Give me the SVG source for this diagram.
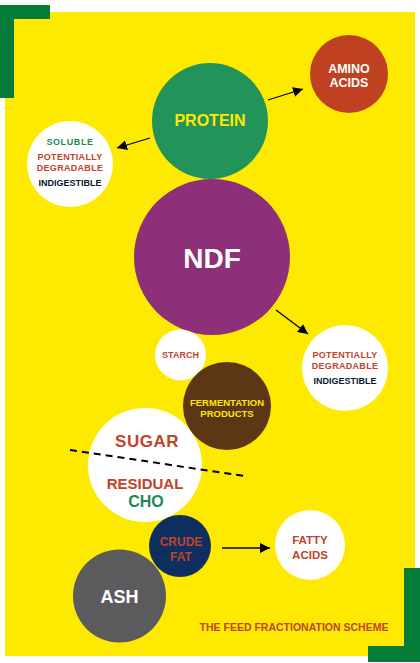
<svg xmlns="http://www.w3.org/2000/svg" width="420" height="663" viewBox="0 0 420 663">
<defs>
<marker id="ah" viewBox="0 0 10 10" refX="10" refY="5" markerWidth="10" markerHeight="10" markerUnits="userSpaceOnUse" orient="auto"><path d="M0,0 L10,5 L0,10 z" fill="#000"/></marker>
<style>
text{font-family:"Liberation Sans",Arial,sans-serif;font-weight:bold;text-anchor:middle;dominant-baseline:central}
.w{fill:#fff}.y{fill:#FFE800}.r{fill:#C0432A}.g{fill:#1E8A52}.k{fill:#0B1530}
.ln{stroke:#000;stroke-width:1.3;fill:none}
</style>
</defs>
<rect width="420" height="663" fill="#fff"/>
<rect x="5" y="12" width="410" height="644" fill="#FDEA00"/>
<path d="M0,5 H50 V19 H14 V98 H0 Z" fill="#047B36"/>
<path d="M404,568 H420 V662 H368 V646 H404 Z" fill="#047B36"/>
<g id="amino"><circle cx="349" cy="74" r="39" fill="#BF4121"/><text class="w" x="349" y="69" font-size="12.5">AMINO</text><text class="w" x="349" y="83" font-size="12.5">ACIDS</text></g>
<g id="protein"><circle cx="210" cy="121" r="58" fill="#22945A"/><text class="y" x="210" y="120" font-size="16">PROTEIN</text></g>
<g id="soluble"><circle cx="70" cy="164" r="43" fill="#fff"/><text class="g" x="70" y="142" font-size="9" letter-spacing="0.6">SOLUBLE</text><text class="r" x="70" y="157" font-size="9" letter-spacing="0.3">POTENTIALLY</text><text class="r" x="70" y="168" font-size="9" letter-spacing="0.3">DEGRADABLE</text><text class="k" x="70" y="183" font-size="9">INDIGESTIBLE</text></g>
<g id="ndf"><circle cx="212" cy="257" r="78" fill="#8E3079"/><text class="w" x="212" y="258" font-size="28">NDF</text></g>
<g id="potdeg"><circle cx="345" cy="368" r="43" fill="#fff"/><text class="r" x="345" y="355" font-size="9" letter-spacing="0.3">POTENTIALLY</text><text class="r" x="345" y="366" font-size="9" letter-spacing="0.3">DEGRADABLE</text><text class="k" x="345" y="381" font-size="9">INDIGESTIBLE</text></g>
<g id="starch"><circle cx="180.5" cy="355" r="25.5" fill="#fff"/><text class="r" x="180.5" y="355" font-size="9">STARCH</text></g>
<g id="sugar"><circle cx="145" cy="465" r="57" fill="#fff"/><text class="r" x="147" y="441" font-size="17" letter-spacing="0.5">SUGAR</text><text class="r" x="145" y="483" font-size="15">RESIDUAL</text><text class="g" x="146" y="501" font-size="16">CHO</text></g>
<g id="ferm"><circle cx="227" cy="406" r="44" fill="#5D3615"/><text class="y" x="227" y="402" font-size="9.5">FERMENTATION</text><text class="y" x="227" y="413" font-size="9.5">PRODUCTS</text></g>
<g id="fattyacids"><circle cx="310" cy="545" r="35" fill="#fff"/><text class="r" x="310" y="540" font-size="11.5">FATTY</text><text class="r" x="310" y="555" font-size="11.5">ACIDS</text></g>
<g id="ash"><circle cx="119.5" cy="596" r="46.5" fill="#5B5B5D"/><text class="w" x="119.5" y="597" font-size="18">ASH</text></g>
<g id="crudefat"><circle cx="180" cy="546" r="31" fill="#0F2F60"/><text class="r" x="181" y="542" font-size="12">CRUDE</text><text class="r" x="181" y="557" font-size="12">FAT</text></g>
<text class="r" x="294" y="627" font-size="10.5">THE FEED FRACTIONATION SCHEME</text>
<g id="connectors">
<line class="ln" x1="268" y1="100" x2="303" y2="89" marker-end="url(#ah)"/>
<line class="ln" x1="150" y1="138" x2="117" y2="148" marker-end="url(#ah)"/>
<line class="ln" x1="276" y1="310" x2="308" y2="334" marker-end="url(#ah)"/>
<line class="ln" x1="222" y1="548" x2="270" y2="548" marker-end="url(#ah)"/>
<line x1="70" y1="450" x2="245" y2="476" stroke="#000" stroke-width="2" stroke-dasharray="7,5"/>
</g>
</svg>
